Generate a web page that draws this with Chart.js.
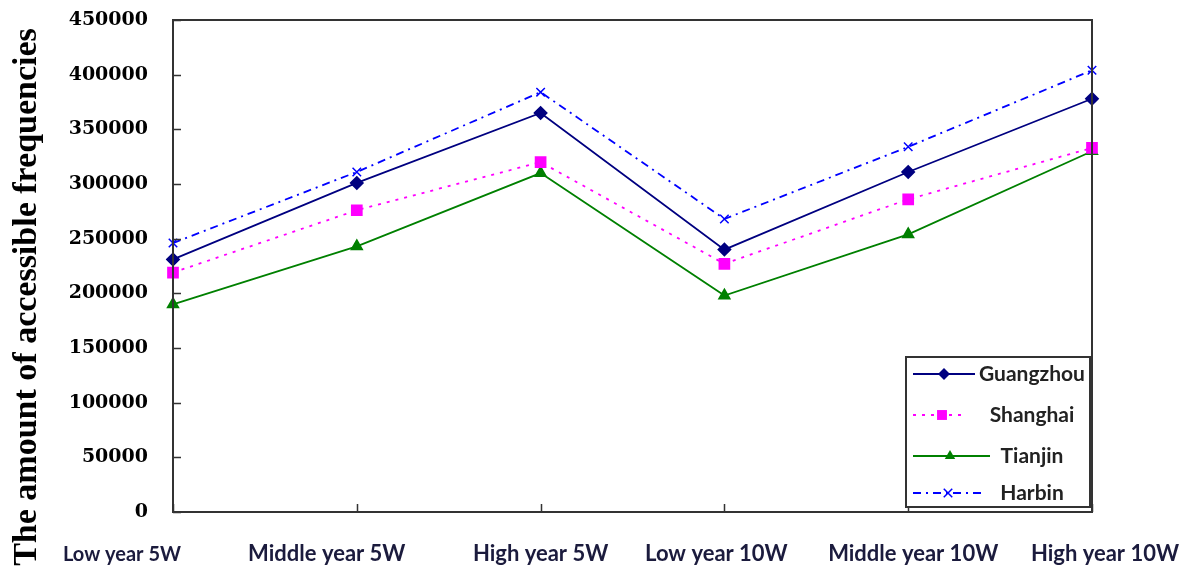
<!DOCTYPE html>
<html>
<head>
<meta charset="utf-8">
<script src="https://cdn.jsdelivr.net/npm/chart.js@4.4.1/dist/chart.umd.min.js"></script>
<style>
  html, body { margin: 0; padding: 0; background: #fff; }
  canvas { display: block; }
</style>
</head>
<body>
<canvas id="c" width="1190" height="568"></canvas>
<script>
// Scenario categories
const categories = ['Low year 5W', 'Middle year 5W', 'High year 5W', 'Low year 10W', 'Middle year 10W', 'High year 10W'];

// Accessible frequencies per city
const guangzhou = [231000, 301000, 365000, 240000, 311000, 378000];
const shanghai  = [219000, 276000, 320000, 227000, 286000, 333000];
const tianjin   = [190000, 243000, 310000, 198000, 254000, 330000];
const harbin    = [246000, 311000, 384000, 268000, 334000, 404000];

const seriesNames = ['Guangzhou', 'Shanghai', 'Tianjin', 'Harbin'];

// Value axis range
const yMin = 0;
const yMax = 450000;
const yStep = 50000;

const yAxisTitle = 'The amount of accessible frequencies';

function drawMarker(ctx, style, x, y, r, color) {
  ctx.save();
  ctx.fillStyle = color;
  ctx.strokeStyle = color;
  ctx.setLineDash([]);
  ctx.beginPath();
  if (style === 'rectRot') {
    ctx.moveTo(x, y - r); ctx.lineTo(x + r, y); ctx.lineTo(x, y + r); ctx.lineTo(x - r, y);
    ctx.closePath(); ctx.fill();
  } else if (style === 'rect') {
    const s = r * Math.SQRT1_2;
    ctx.rect(x - s, y - s, 2 * s, 2 * s); ctx.fill();
  } else if (style === 'triangle') {
    const h = r * 1.5;
    ctx.moveTo(x, y - r); ctx.lineTo(x + h * 0.58, y + r * 0.5); ctx.lineTo(x - h * 0.58, y + r * 0.5);
    ctx.closePath(); ctx.fill();
  } else if (style === 'crossRot') {
    const s = r * Math.SQRT1_2;
    ctx.lineWidth = 1.5;
    ctx.moveTo(x - s, y - s); ctx.lineTo(x + s, y + s);
    ctx.moveTo(x + s, y - s); ctx.lineTo(x - s, y + s);
    ctx.stroke();
  }
  ctx.restore();
}

// Frame, inside tick marks, category labels, axis title and legend box
const decorations = {
  id: 'decorations',
  afterDraw(chart) {
    const ctx = chart.ctx;
    const a = chart.chartArea;
    const xs = chart.scales.x;
    const ys = chart.scales.y;
    ctx.save();

    // plot frame
    ctx.strokeStyle = '#333';
    ctx.lineWidth = 2;
    ctx.strokeRect(a.left, a.top, a.right - a.left, a.bottom - a.top);

    // inside tick marks
    ctx.lineWidth = 1.5;
    ctx.beginPath();
    ys.ticks.forEach(t => {
      const py = Math.round(ys.getPixelForValue(t.value)) + 0.5;
      ctx.moveTo(a.left, py); ctx.lineTo(a.left + 8, py);
    });
    categories.forEach((c, i) => {
      const px = Math.round(xs.getPixelForValue(i)) + 0.5;
      ctx.moveTo(px, a.bottom); ctx.lineTo(px, a.bottom - 8);
    });
    ctx.stroke();

    // category labels
    const shifts = [-51, -30, 0, -8, 5, 13];
    const sizes = [20, 22, 22, 22, 22, 22];
    ctx.fillStyle = '#1b1b3d';
    ctx.textAlign = 'center';
    ctx.textBaseline = 'alphabetic';
    categories.forEach((c, i) => {
      ctx.font = 'bold ' + sizes[i] + 'px Lato, "Open Sans", sans-serif';
      ctx.fillText(c, xs.getPixelForValue(i) + shifts[i], 561);
    });

    // value axis title, sized to span the left margin
    ctx.save();
    ctx.translate(36, 297);
    ctx.rotate(-Math.PI / 2);
    ctx.font = 'bold 32px "Liberation Serif", serif';
    const fitSize = Math.round(32 * 537 / ctx.measureText(yAxisTitle).width);
    ctx.font = 'bold ' + fitSize + 'px "Liberation Serif", serif';
    ctx.fillStyle = '#000';
    ctx.textAlign = 'center';
    ctx.fillText(yAxisTitle, 0, 0);
    ctx.restore();

    // legend
    const bx = 906, by = 357, bw = 184, bh = 150;
    ctx.fillStyle = '#fff';
    ctx.fillRect(bx, by, bw, bh);
    ctx.strokeStyle = '#333';
    ctx.lineWidth = 2;
    ctx.strokeRect(bx, by, bw, bh);
    const rowsY = [374, 415, 456, 493];
    const sampleEnd = [975, 966, 990, 985];
    const markerX = [944, 942, 950, 948];
    chart.data.datasets.forEach((ds, i) => {
      const ry = rowsY[i];
      ctx.save();
      ctx.strokeStyle = ds.borderColor;
      ctx.lineWidth = ds.borderWidth;
      ctx.setLineDash(ds.borderDash || []);
      ctx.beginPath();
      ctx.moveTo(913, ry); ctx.lineTo(sampleEnd[i], ry);
      ctx.stroke();
      ctx.restore();
      drawMarker(ctx, ds.pointStyle, markerX[i], ry, ds.pointRadius, ds.pointBackgroundColor);
      ctx.fillStyle = '#222';
      ctx.font = 'bold 21px Lato, "Open Sans", sans-serif';
      ctx.textAlign = 'center';
      ctx.textBaseline = 'middle';
      ctx.fillText(ds.label, 1032, ry);
    });

    ctx.restore();
  }
};

const chart = new Chart(document.getElementById('c'), {
  type: 'line',
  data: {
    labels: categories,
    datasets: [
      { label: seriesNames[0], data: guangzhou, borderColor: '#000080', pointBackgroundColor: '#000080', pointBorderColor: '#000080',
        borderWidth: 1.8, pointStyle: 'rectRot', pointRadius: 6, borderDash: [] },
      { label: seriesNames[1], data: shanghai, borderColor: '#ff00ff', pointBackgroundColor: '#ff00ff', pointBorderColor: '#ff00ff',
        borderWidth: 1.8, pointStyle: 'rect', pointRadius: 7, borderDash: [3, 6] },
      { label: seriesNames[2], data: tianjin, borderColor: '#008000', pointBackgroundColor: '#008000', pointBorderColor: '#008000',
        borderWidth: 1.8, pointStyle: 'triangle', pointRadius: 6, borderDash: [] },
      { label: seriesNames[3], data: harbin, borderColor: '#0000ff', pointBackgroundColor: '#0000ff', pointBorderColor: '#0000ff',
        borderWidth: 1.8, pointStyle: 'crossRot', pointRadius: 6, pointBorderWidth: 1.5, borderDash: [8, 5, 2, 5] }
    ]
  },
  options: {
    responsive: false,
    animation: false,
    devicePixelRatio: 1,
    layout: { padding: { top: 20, right: 98, left: 0, bottom: 0 } },
    plugins: { legend: { display: false }, tooltip: { enabled: false } },
    elements: { line: { tension: 0 } },
    scales: {
      x: {
        type: 'category',
        offset: false,
        grid: { display: false, drawTicks: false },
        border: { display: false },
        ticks: { display: false },
        afterFit(scale) { scale.height = 56; }
      },
      y: {
        min: yMin,
        max: yMax,
        grid: { display: false, drawTicks: false },
        border: { display: false },
        ticks: {
          stepSize: yStep,
          padding: 25,
          color: '#000',
          font: { family: '"DejaVu Serif", serif', weight: 'bold', size: 19 },
          callback: v => String(v)
        },
        afterFit(scale) {
          scale.width = 173;
          scale.paddingTop = 0;
          scale.paddingBottom = 0;
        }
      }
    }
  },
  plugins: [decorations]
});
</script>
</body>
</html>
